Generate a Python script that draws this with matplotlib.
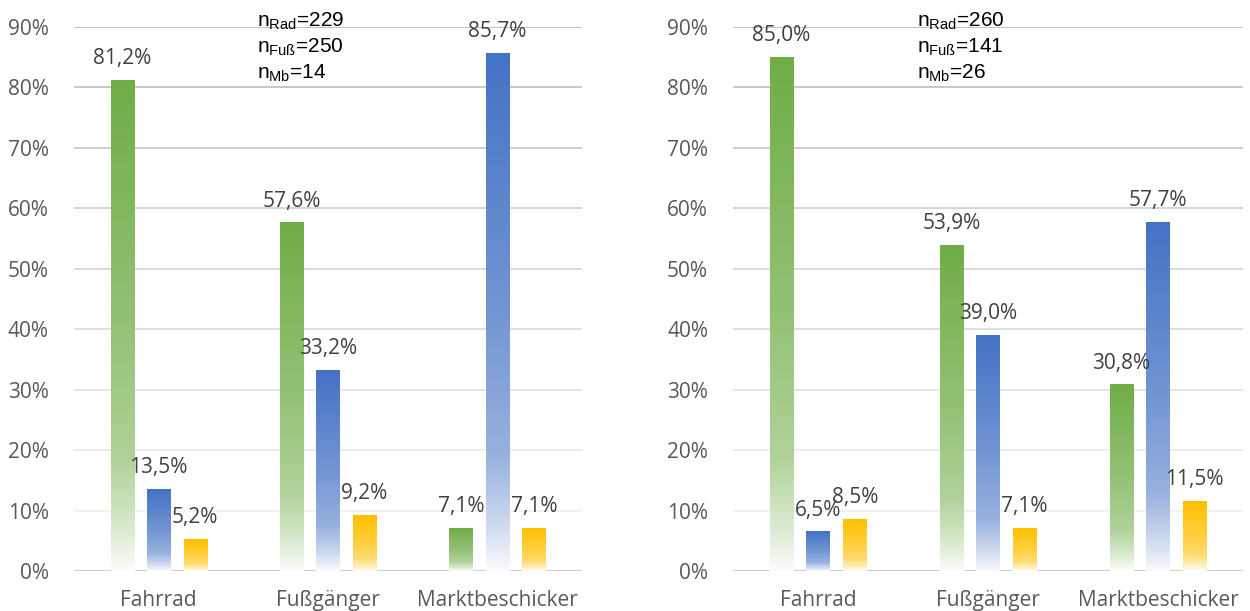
import matplotlib
matplotlib.use('Agg')
import matplotlib.pyplot as plt
import numpy as np
from matplotlib.colors import to_rgb

plt.rcParams['font.family'] = ['Open Sans', 'DejaVu Sans']
plt.rcParams['mathtext.fontset'] = 'custom'
plt.rcParams['mathtext.rm'] = 'Liberation Sans'

categories = ['Fahrrad', 'Fußgänger', 'Marktbeschicker']

# left chart
left_green = [81.2, 57.6, 7.1]
left_blue = [13.5, 33.2, 85.7]
left_yellow = [5.2, 9.2, 7.1]
left_n = [229, 250, 14]

# right chart
right_green = [85.0, 53.9, 30.8]
right_blue = [6.5, 39.0, 57.7]
right_yellow = [8.5, 7.1, 11.5]
right_n = [260, 141, 26]

y_ticks = [0, 10, 20, 30, 40, 50, 60, 70, 80, 90]

GREEN = '#70AD47'
BLUE = '#4472C4'
YELLOW = '#FFC000'
TXT = '#595959'
VAL = '#404040'


def gradient_bar(ax, x, h, width, color):
    if h <= 0:
        return
    n = 200
    t = np.linspace(0, 1, n)
    # share of full colour from bottom (0) to top (1)
    k = np.interp(t, [0, 0.08, 0.22, 0.5, 1], [0.03, 0.25, 0.55, 0.75, 1.0])
    c = np.array(to_rgb(color))
    rgb = (1 - k)[:, None] * 1.0 + k[:, None] * c[None, :]
    img = rgb[:, None, :]
    ax.imshow(img, extent=[x - width / 2, x + width / 2, 0, h], origin='lower',
              aspect='auto', interpolation='bilinear', zorder=3)


def draw_panel(ax, green, blue, yellow, n_vals):
    x = np.arange(len(categories))
    width = 0.136
    offs = 0.216

    # gridlines, darker at top
    greys = np.linspace(0.95, 0.76, len(y_ticks) - 1)
    for v, g in zip(y_ticks[1:], greys):
        ax.axhline(v, color=(g, g, g), lw=1.4, zorder=1)
    ax.axhline(0, color='#d0d0d0', lw=2.2, zorder=2)

    for vals, off, col in [(green, -offs, GREEN), (blue, 0, BLUE), (yellow, offs, YELLOW)]:
        for xi, v in zip(x, vals):
            gradient_bar(ax, xi + off, v, width, col)
            ax.annotate(f'{v:.1f}%'.replace('.', ','), (xi + off, v),
                        xytext=(0, 8), textcoords='offset points',
                        ha='center', va='bottom', fontsize=15, color=VAL,
                        zorder=5, annotation_clip=False)

    ax.set_xlim(-0.5, 2.5)
    ax.set_ylim(0, 90)
    ax.set_xticks(x)
    ax.set_xticklabels(categories, fontsize=15, color=TXT)
    ax.set_yticks(y_ticks)
    ax.set_yticklabels([f'{v}%' for v in y_ticks], fontsize=15, color=TXT)
    ax.tick_params(length=0)
    ax.tick_params(axis='x', pad=14)
    ax.tick_params(axis='y', pad=18)
    for s in ax.spines.values():
        s.set_visible(False)

    labels = ['Rad', 'Fuß', 'Mb']
    txt = '\n'.join(f'n$_{{\\mathregular{{{lab}}}}}$={nv}' for lab, nv in zip(labels, n_vals))
    ax.text(0.36, 1.03, txt, transform=ax.transAxes, ha='left', va='top',
            fontsize=15, family='Liberation Sans', color='black',
            linespacing=1.28, zorder=6)


fig = plt.figure(figsize=(12.5, 6.11), dpi=100)
ax1 = fig.add_axes([0.0592, 0.0655, 0.4064, 0.8903])
ax2 = fig.add_axes([0.5864, 0.0655, 0.408, 0.8903])

draw_panel(ax1, left_green, left_blue, left_yellow, left_n)
draw_panel(ax2, right_green, right_blue, right_yellow, right_n)

fig.savefig('out.png', dpi=100)
